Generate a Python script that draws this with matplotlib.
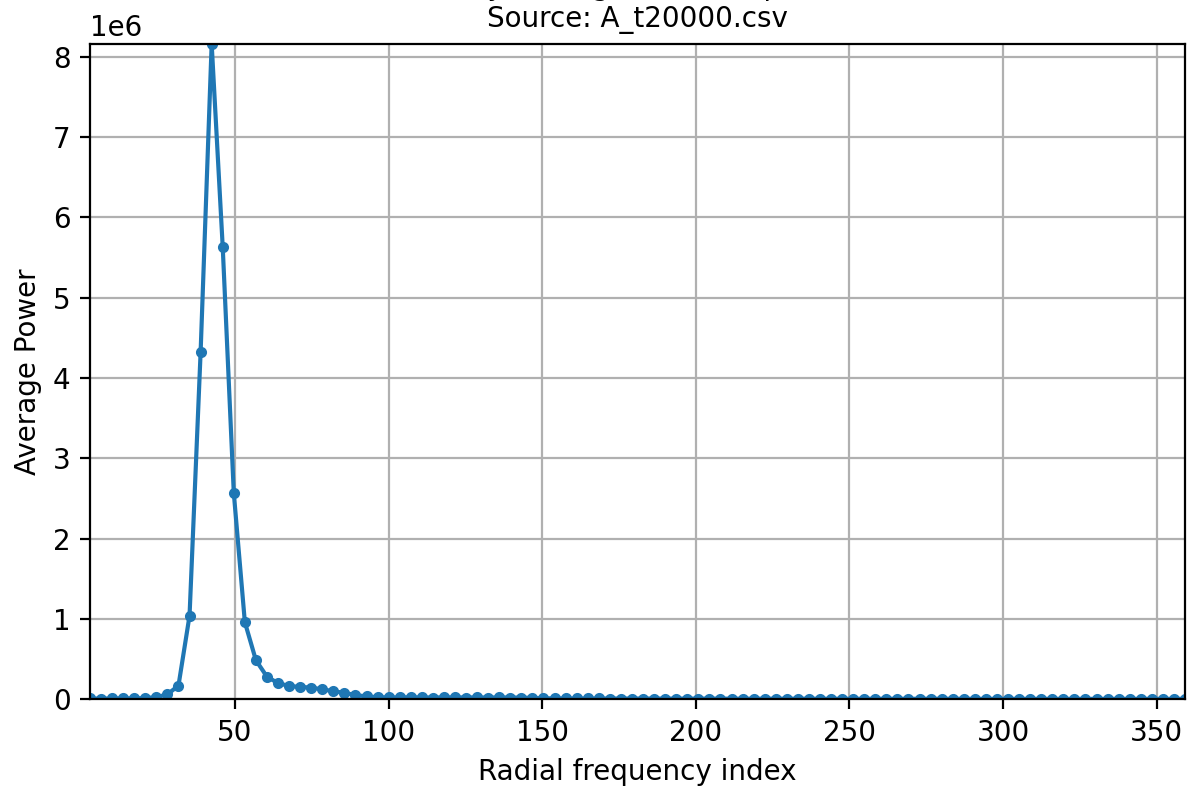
import matplotlib
matplotlib.use("Agg")
import matplotlib.pyplot as plt
import numpy as np

# radial frequency bins (100 bins, centres)
freq_index = np.linspace(2.8, 359.2, 100)

# average power per bin, in units of 1e6
power_millions = [
    0.010, 0.006, 0.010, 0.012, 0.010, 0.014, 0.025, 0.060, 0.170, 1.040,
    4.320, 8.160, 5.630, 2.570, 0.960, 0.485, 0.280, 0.200, 0.165, 0.152,
    0.145, 0.122, 0.100, 0.078, 0.052, 0.034, 0.025, 0.022, 0.022, 0.024,
    0.022, 0.021, 0.022, 0.023, 0.021, 0.022, 0.020, 0.022, 0.021, 0.019,
    0.016, 0.012, 0.010, 0.010, 0.009, 0.009, 0.009, 0.008, 0.008, 0.008,
    0.008, 0.008, 0.007, 0.007, 0.007, 0.007, 0.007, 0.007, 0.006, 0.006,
    0.006, 0.006, 0.006, 0.006, 0.006, 0.006, 0.005, 0.005, 0.005, 0.005,
    0.005, 0.005, 0.005, 0.005, 0.005, 0.005, 0.005, 0.005, 0.005, 0.005,
    0.004, 0.004, 0.004, 0.004, 0.004, 0.004, 0.004, 0.004, 0.004, 0.004,
    0.004, 0.004, 0.004, 0.004, 0.004, 0.004, 0.004, 0.004, 0.004, 0.004,
]
power = np.array(power_millions) * 1e6

title = "Radially Averaged Power Spectrum\nSource: A_t20000.csv"

fig, ax = plt.subplots(figsize=(6, 4), dpi=200)
fig.subplots_adjust(left=0.075, right=0.9875, bottom=0.126, top=0.945)

ax.plot(freq_index, power, marker="o", markersize=3, color="#1f77b4", linewidth=1.5)
ax.set_xlim(freq_index.min(), freq_index.max())
ax.set_ylim(0, power.max())
ax.set_xlabel("Radial frequency index")
ax.set_ylabel("Average Power")
ax.set_title(title, fontsize=10)
ax.grid(True)

fig.savefig("out.png", dpi=200)
